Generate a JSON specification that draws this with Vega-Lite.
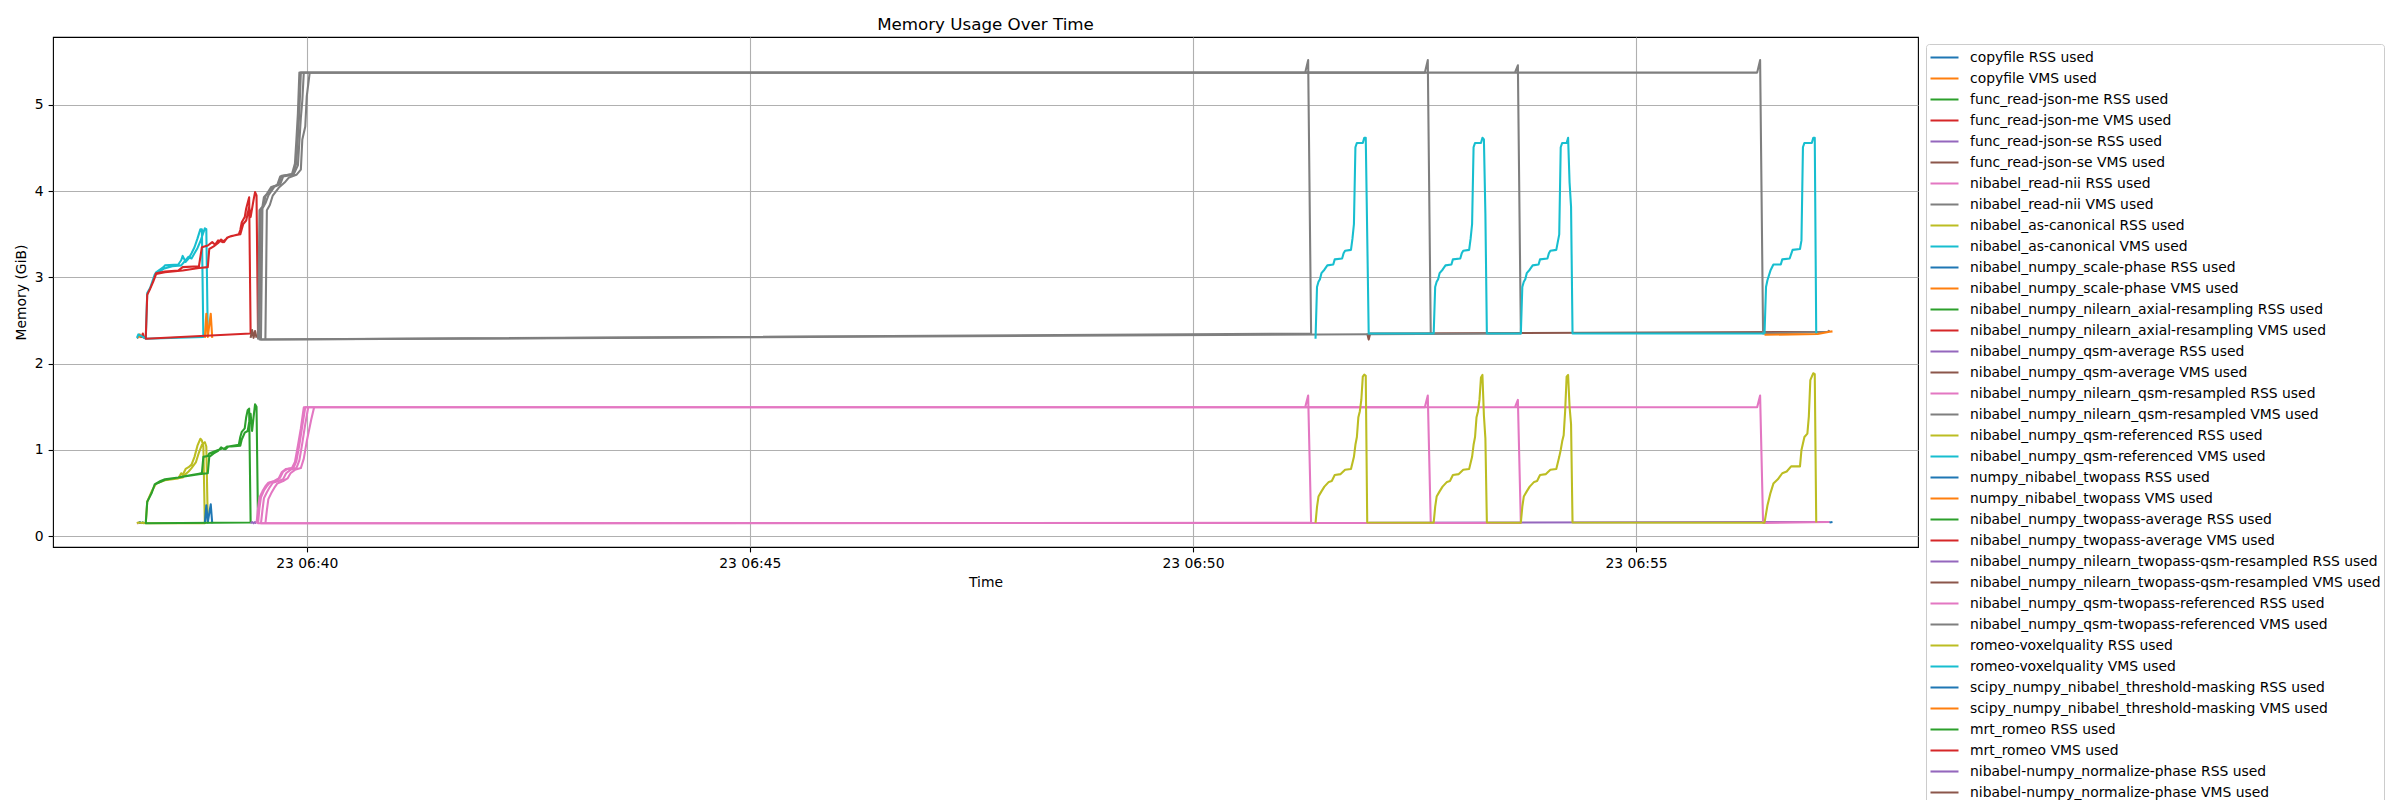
{
"$schema": "https://vega.github.io/schema/vega-lite/v6.json",
"width": 1865, "height": 510,
"autosize": {"type": "none"},
"padding": {"left": 53, "top": 37, "right": 482, "bottom": 253},
"background": "white",
"title": {"text": "Memory Usage Over Time", "font": "DejaVu Sans", "fontSize": 16.7, "fontWeight": "normal", "color": "black", "anchor": "middle", "frame": "group", "baseline": "alphabetic", "offset": 8, "dy": 18},
"config": {
  "view": {"stroke": "black", "strokeWidth": 1.1, "fill": "white"},
  "axis": {"domain": false, "grid": true, "gridColor": "#b0b0b0", "gridWidth": 1.1, "tickColor": "black", "tickSize": 4.9, "tickWidth": 1.1, "labelFont": "DejaVu Sans", "labelFontSize": 13.9, "labelColor": "black", "labelPadding": 4.9, "titleFont": "DejaVu Sans", "titleFontSize": 13.9, "titleFontWeight": "normal", "titleColor": "black"}
},
"data": {"values": [
{"s":"copyfile RSS used","t":"2024-05-23T06:38:06","v":0.15},
{"s":"copyfile RSS used","t":"2024-05-23T06:38:07","v":0.165},
{"s":"copyfile RSS used","t":"2024-05-23T06:38:08","v":0.15},
{"s":"copyfile VMS used","t":"2024-05-23T06:38:06","v":2.3},
{"s":"copyfile VMS used","t":"2024-05-23T06:38:07","v":2.34},
{"s":"copyfile VMS used","t":"2024-05-23T06:38:08","v":2.3},
{"s":"func_read-json-me RSS used","t":"2024-05-23T06:38:08","v":0.15},
{"s":"func_read-json-me RSS used","t":"2024-05-23T06:38:09","v":0.16},
{"s":"func_read-json-me RSS used","t":"2024-05-23T06:38:10","v":0.15},
{"s":"func_read-json-me VMS used","t":"2024-05-23T06:38:08","v":2.3},
{"s":"func_read-json-me VMS used","t":"2024-05-23T06:38:09","v":2.35},
{"s":"func_read-json-me VMS used","t":"2024-05-23T06:38:10","v":2.3},
{"s":"func_read-json-se RSS used","t":"2024-05-23T06:38:09","v":0.15},
{"s":"func_read-json-se RSS used","t":"2024-05-23T06:38:10","v":0.155},
{"s":"func_read-json-se VMS used","t":"2024-05-23T06:38:09","v":2.3},
{"s":"func_read-json-se VMS used","t":"2024-05-23T06:38:10","v":2.31},
{"s":"nibabel_read-nii RSS used","t":"2024-05-23T06:38:05","v":0.15},
{"s":"nibabel_read-nii RSS used","t":"2024-05-23T06:38:06","v":0.152},
{"s":"nibabel_read-nii VMS used","t":"2024-05-23T06:38:05","v":2.3},
{"s":"nibabel_read-nii VMS used","t":"2024-05-23T06:38:06","v":2.3},

{"s":"nibabel_as-canonical RSS used","t":"2024-05-23T06:38:05","v":0.15},
{"s":"nibabel_as-canonical RSS used","t":"2024-05-23T06:38:06","v":0.16},
{"s":"nibabel_as-canonical RSS used","t":"2024-05-23T06:38:11","v":0.15},
{"s":"nibabel_as-canonical RSS used","t":"2024-05-23T06:38:12","v":0.4},
{"s":"nibabel_as-canonical RSS used","t":"2024-05-23T06:38:15","v":0.52},
{"s":"nibabel_as-canonical RSS used","t":"2024-05-23T06:38:18","v":0.61},
{"s":"nibabel_as-canonical RSS used","t":"2024-05-23T06:38:24","v":0.65},
{"s":"nibabel_as-canonical RSS used","t":"2024-05-23T06:38:33","v":0.67},
{"s":"nibabel_as-canonical RSS used","t":"2024-05-23T06:38:35","v":0.73},
{"s":"nibabel_as-canonical RSS used","t":"2024-05-23T06:38:36","v":0.71},
{"s":"nibabel_as-canonical RSS used","t":"2024-05-23T06:38:38","v":0.78},
{"s":"nibabel_as-canonical RSS used","t":"2024-05-23T06:38:40","v":0.8},
{"s":"nibabel_as-canonical RSS used","t":"2024-05-23T06:38:42","v":0.83},
{"s":"nibabel_as-canonical RSS used","t":"2024-05-23T06:38:44","v":0.92},
{"s":"nibabel_as-canonical RSS used","t":"2024-05-23T06:38:46","v":1.05},
{"s":"nibabel_as-canonical RSS used","t":"2024-05-23T06:38:48","v":1.13},
{"s":"nibabel_as-canonical RSS used","t":"2024-05-23T06:38:49","v":1.11},
{"s":"nibabel_as-canonical RSS used","t":"2024-05-23T06:38:50","v":1.04},
{"s":"nibabel_as-canonical RSS used","t":"2024-05-23T06:38:51","v":0.15},
{"s":"nibabel_as-canonical RSS used","t":"2024-05-23T06:38:11","v":0.15},
{"s":"nibabel_as-canonical RSS used","t":"2024-05-23T06:38:12","v":0.4},
{"s":"nibabel_as-canonical RSS used","t":"2024-05-23T06:38:15","v":0.52},
{"s":"nibabel_as-canonical RSS used","t":"2024-05-23T06:38:18","v":0.61},
{"s":"nibabel_as-canonical RSS used","t":"2024-05-23T06:38:24","v":0.65},
{"s":"nibabel_as-canonical RSS used","t":"2024-05-23T06:38:36","v":0.68},
{"s":"nibabel_as-canonical RSS used","t":"2024-05-23T06:38:38","v":0.72},
{"s":"nibabel_as-canonical RSS used","t":"2024-05-23T06:38:40","v":0.75},
{"s":"nibabel_as-canonical RSS used","t":"2024-05-23T06:38:42","v":0.79},
{"s":"nibabel_as-canonical RSS used","t":"2024-05-23T06:38:45","v":0.86},
{"s":"nibabel_as-canonical RSS used","t":"2024-05-23T06:38:47","v":0.97},
{"s":"nibabel_as-canonical RSS used","t":"2024-05-23T06:38:49","v":1.06},
{"s":"nibabel_as-canonical RSS used","t":"2024-05-23T06:38:51","v":1.09},
{"s":"nibabel_as-canonical RSS used","t":"2024-05-23T06:38:52","v":1.04},
{"s":"nibabel_as-canonical RSS used","t":"2024-05-23T06:38:53","v":0.16},

{"s":"nibabel_as-canonical VMS used","t":"2024-05-23T06:38:05","v":2.3},
{"s":"nibabel_as-canonical VMS used","t":"2024-05-23T06:38:06","v":2.34},
{"s":"nibabel_as-canonical VMS used","t":"2024-05-23T06:38:11","v":2.29},
{"s":"nibabel_as-canonical VMS used","t":"2024-05-23T06:38:12","v":2.82},
{"s":"nibabel_as-canonical VMS used","t":"2024-05-23T06:38:14","v":2.88},
{"s":"nibabel_as-canonical VMS used","t":"2024-05-23T06:38:17","v":3.03},
{"s":"nibabel_as-canonical VMS used","t":"2024-05-23T06:38:18","v":3.06},
{"s":"nibabel_as-canonical VMS used","t":"2024-05-23T06:38:23","v":3.12},
{"s":"nibabel_as-canonical VMS used","t":"2024-05-23T06:38:24","v":3.14},
{"s":"nibabel_as-canonical VMS used","t":"2024-05-23T06:38:33","v":3.15},
{"s":"nibabel_as-canonical VMS used","t":"2024-05-23T06:38:35","v":3.2},
{"s":"nibabel_as-canonical VMS used","t":"2024-05-23T06:38:36","v":3.25},
{"s":"nibabel_as-canonical VMS used","t":"2024-05-23T06:38:38","v":3.18},
{"s":"nibabel_as-canonical VMS used","t":"2024-05-23T06:38:40","v":3.22},
{"s":"nibabel_as-canonical VMS used","t":"2024-05-23T06:38:42","v":3.28},
{"s":"nibabel_as-canonical VMS used","t":"2024-05-23T06:38:44","v":3.35},
{"s":"nibabel_as-canonical VMS used","t":"2024-05-23T06:38:46","v":3.45},
{"s":"nibabel_as-canonical VMS used","t":"2024-05-23T06:38:48","v":3.56},
{"s":"nibabel_as-canonical VMS used","t":"2024-05-23T06:38:49","v":3.56},
{"s":"nibabel_as-canonical VMS used","t":"2024-05-23T06:38:50","v":2.31},
{"s":"nibabel_as-canonical VMS used","t":"2024-05-23T06:38:11","v":2.29},
{"s":"nibabel_as-canonical VMS used","t":"2024-05-23T06:38:12","v":2.82},
{"s":"nibabel_as-canonical VMS used","t":"2024-05-23T06:38:14","v":2.88},
{"s":"nibabel_as-canonical VMS used","t":"2024-05-23T06:38:17","v":3.03},
{"s":"nibabel_as-canonical VMS used","t":"2024-05-23T06:38:23","v":3.1},
{"s":"nibabel_as-canonical VMS used","t":"2024-05-23T06:38:29","v":3.13},
{"s":"nibabel_as-canonical VMS used","t":"2024-05-23T06:38:35","v":3.14},
{"s":"nibabel_as-canonical VMS used","t":"2024-05-23T06:38:38","v":3.2},
{"s":"nibabel_as-canonical VMS used","t":"2024-05-23T06:38:40","v":3.24},
{"s":"nibabel_as-canonical VMS used","t":"2024-05-23T06:38:42","v":3.22},
{"s":"nibabel_as-canonical VMS used","t":"2024-05-23T06:38:44","v":3.28},
{"s":"nibabel_as-canonical VMS used","t":"2024-05-23T06:38:46","v":3.34},
{"s":"nibabel_as-canonical VMS used","t":"2024-05-23T06:38:48","v":3.42},
{"s":"nibabel_as-canonical VMS used","t":"2024-05-23T06:38:50","v":3.52},
{"s":"nibabel_as-canonical VMS used","t":"2024-05-23T06:38:51","v":3.57},
{"s":"nibabel_as-canonical VMS used","t":"2024-05-23T06:38:52","v":3.56},
{"s":"nibabel_as-canonical VMS used","t":"2024-05-23T06:38:53","v":2.32},

{"s":"nibabel_numpy_scale-phase RSS used","t":"2024-05-23T06:38:51","v":0.15},
{"s":"nibabel_numpy_scale-phase RSS used","t":"2024-05-23T06:38:52","v":0.36},
{"s":"nibabel_numpy_scale-phase RSS used","t":"2024-05-23T06:38:53","v":0.16},
{"s":"nibabel_numpy_scale-phase RSS used","t":"2024-05-23T06:38:55","v":0.37},
{"s":"nibabel_numpy_scale-phase RSS used","t":"2024-05-23T06:38:56","v":0.15},
{"s":"nibabel_numpy_scale-phase VMS used","t":"2024-05-23T06:38:51","v":2.3},
{"s":"nibabel_numpy_scale-phase VMS used","t":"2024-05-23T06:38:52","v":2.58},
{"s":"nibabel_numpy_scale-phase VMS used","t":"2024-05-23T06:38:53","v":2.31},
{"s":"nibabel_numpy_scale-phase VMS used","t":"2024-05-23T06:38:55","v":2.58},
{"s":"nibabel_numpy_scale-phase VMS used","t":"2024-05-23T06:38:56","v":2.3},

{"s":"nibabel_numpy_nilearn_axial-resampling RSS used","t":"2024-05-23T06:38:11","v":0.15},
{"s":"nibabel_numpy_nilearn_axial-resampling RSS used","t":"2024-05-23T06:38:12","v":0.4},
{"s":"nibabel_numpy_nilearn_axial-resampling RSS used","t":"2024-05-23T06:38:15","v":0.5},
{"s":"nibabel_numpy_nilearn_axial-resampling RSS used","t":"2024-05-23T06:38:17","v":0.6},
{"s":"nibabel_numpy_nilearn_axial-resampling RSS used","t":"2024-05-23T06:38:21","v":0.64},
{"s":"nibabel_numpy_nilearn_axial-resampling RSS used","t":"2024-05-23T06:38:24","v":0.66},
{"s":"nibabel_numpy_nilearn_axial-resampling RSS used","t":"2024-05-23T06:38:33","v":0.68},
{"s":"nibabel_numpy_nilearn_axial-resampling RSS used","t":"2024-05-23T06:38:42","v":0.71},
{"s":"nibabel_numpy_nilearn_axial-resampling RSS used","t":"2024-05-23T06:38:49","v":0.73},
{"s":"nibabel_numpy_nilearn_axial-resampling RSS used","t":"2024-05-23T06:38:50","v":0.92},
{"s":"nibabel_numpy_nilearn_axial-resampling RSS used","t":"2024-05-23T06:38:53","v":0.93},
{"s":"nibabel_numpy_nilearn_axial-resampling RSS used","t":"2024-05-23T06:38:54","v":0.96},
{"s":"nibabel_numpy_nilearn_axial-resampling RSS used","t":"2024-05-23T06:38:57","v":0.98},
{"s":"nibabel_numpy_nilearn_axial-resampling RSS used","t":"2024-05-23T06:39:00","v":1.0},
{"s":"nibabel_numpy_nilearn_axial-resampling RSS used","t":"2024-05-23T06:39:03","v":1.02},
{"s":"nibabel_numpy_nilearn_axial-resampling RSS used","t":"2024-05-23T06:39:05","v":1.01},
{"s":"nibabel_numpy_nilearn_axial-resampling RSS used","t":"2024-05-23T06:39:07","v":1.04},
{"s":"nibabel_numpy_nilearn_axial-resampling RSS used","t":"2024-05-23T06:39:14","v":1.06},
{"s":"nibabel_numpy_nilearn_axial-resampling RSS used","t":"2024-05-23T06:39:15","v":1.15},
{"s":"nibabel_numpy_nilearn_axial-resampling RSS used","t":"2024-05-23T06:39:16","v":1.21},
{"s":"nibabel_numpy_nilearn_axial-resampling RSS used","t":"2024-05-23T06:39:18","v":1.25},
{"s":"nibabel_numpy_nilearn_axial-resampling RSS used","t":"2024-05-23T06:39:19","v":1.38},
{"s":"nibabel_numpy_nilearn_axial-resampling RSS used","t":"2024-05-23T06:39:20","v":1.46},
{"s":"nibabel_numpy_nilearn_axial-resampling RSS used","t":"2024-05-23T06:39:21","v":1.48},
{"s":"nibabel_numpy_nilearn_axial-resampling RSS used","t":"2024-05-23T06:39:22","v":0.16},
{"s":"nibabel_numpy_nilearn_axial-resampling RSS used","t":"2024-05-23T06:38:11","v":0.15},
{"s":"nibabel_numpy_nilearn_axial-resampling RSS used","t":"2024-05-23T06:38:12","v":0.4},
{"s":"nibabel_numpy_nilearn_axial-resampling RSS used","t":"2024-05-23T06:38:15","v":0.5},
{"s":"nibabel_numpy_nilearn_axial-resampling RSS used","t":"2024-05-23T06:38:17","v":0.6},
{"s":"nibabel_numpy_nilearn_axial-resampling RSS used","t":"2024-05-23T06:38:24","v":0.655},
{"s":"nibabel_numpy_nilearn_axial-resampling RSS used","t":"2024-05-23T06:38:36","v":0.69},
{"s":"nibabel_numpy_nilearn_axial-resampling RSS used","t":"2024-05-23T06:38:47","v":0.72},
{"s":"nibabel_numpy_nilearn_axial-resampling RSS used","t":"2024-05-23T06:38:53","v":0.73},
{"s":"nibabel_numpy_nilearn_axial-resampling RSS used","t":"2024-05-23T06:38:54","v":0.92},
{"s":"nibabel_numpy_nilearn_axial-resampling RSS used","t":"2024-05-23T06:38:57","v":0.96},
{"s":"nibabel_numpy_nilearn_axial-resampling RSS used","t":"2024-05-23T06:39:00","v":0.99},
{"s":"nibabel_numpy_nilearn_axial-resampling RSS used","t":"2024-05-23T06:39:02","v":1.03},
{"s":"nibabel_numpy_nilearn_axial-resampling RSS used","t":"2024-05-23T06:39:04","v":1.01},
{"s":"nibabel_numpy_nilearn_axial-resampling RSS used","t":"2024-05-23T06:39:06","v":1.04},
{"s":"nibabel_numpy_nilearn_axial-resampling RSS used","t":"2024-05-23T06:39:09","v":1.04},
{"s":"nibabel_numpy_nilearn_axial-resampling RSS used","t":"2024-05-23T06:39:15","v":1.05},
{"s":"nibabel_numpy_nilearn_axial-resampling RSS used","t":"2024-05-23T06:39:16","v":1.12},
{"s":"nibabel_numpy_nilearn_axial-resampling RSS used","t":"2024-05-23T06:39:18","v":1.2},
{"s":"nibabel_numpy_nilearn_axial-resampling RSS used","t":"2024-05-23T06:39:20","v":1.22},
{"s":"nibabel_numpy_nilearn_axial-resampling RSS used","t":"2024-05-23T06:39:22","v":1.42},
{"s":"nibabel_numpy_nilearn_axial-resampling RSS used","t":"2024-05-23T06:39:23","v":1.22},
{"s":"nibabel_numpy_nilearn_axial-resampling RSS used","t":"2024-05-23T06:39:24","v":1.38},
{"s":"nibabel_numpy_nilearn_axial-resampling RSS used","t":"2024-05-23T06:39:25","v":1.53},
{"s":"nibabel_numpy_nilearn_axial-resampling RSS used","t":"2024-05-23T06:39:26","v":1.5},
{"s":"nibabel_numpy_nilearn_axial-resampling RSS used","t":"2024-05-23T06:39:27","v":0.16},

{"s":"nibabel_numpy_nilearn_axial-resampling VMS used","t":"2024-05-23T06:38:11","v":2.29},
{"s":"nibabel_numpy_nilearn_axial-resampling VMS used","t":"2024-05-23T06:38:12","v":2.8},
{"s":"nibabel_numpy_nilearn_axial-resampling VMS used","t":"2024-05-23T06:38:14","v":2.87},
{"s":"nibabel_numpy_nilearn_axial-resampling VMS used","t":"2024-05-23T06:38:16","v":2.95},
{"s":"nibabel_numpy_nilearn_axial-resampling VMS used","t":"2024-05-23T06:38:18","v":3.05},
{"s":"nibabel_numpy_nilearn_axial-resampling VMS used","t":"2024-05-23T06:38:24","v":3.07},
{"s":"nibabel_numpy_nilearn_axial-resampling VMS used","t":"2024-05-23T06:38:33","v":3.08},
{"s":"nibabel_numpy_nilearn_axial-resampling VMS used","t":"2024-05-23T06:38:36","v":3.12},
{"s":"nibabel_numpy_nilearn_axial-resampling VMS used","t":"2024-05-23T06:38:47","v":3.13},
{"s":"nibabel_numpy_nilearn_axial-resampling VMS used","t":"2024-05-23T06:38:49","v":3.35},
{"s":"nibabel_numpy_nilearn_axial-resampling VMS used","t":"2024-05-23T06:38:53","v":3.37},
{"s":"nibabel_numpy_nilearn_axial-resampling VMS used","t":"2024-05-23T06:38:56","v":3.41},
{"s":"nibabel_numpy_nilearn_axial-resampling VMS used","t":"2024-05-23T06:38:58","v":3.38},
{"s":"nibabel_numpy_nilearn_axial-resampling VMS used","t":"2024-05-23T06:39:00","v":3.43},
{"s":"nibabel_numpy_nilearn_axial-resampling VMS used","t":"2024-05-23T06:39:03","v":3.41},
{"s":"nibabel_numpy_nilearn_axial-resampling VMS used","t":"2024-05-23T06:39:07","v":3.47},
{"s":"nibabel_numpy_nilearn_axial-resampling VMS used","t":"2024-05-23T06:39:14","v":3.5},
{"s":"nibabel_numpy_nilearn_axial-resampling VMS used","t":"2024-05-23T06:39:15","v":3.55},
{"s":"nibabel_numpy_nilearn_axial-resampling VMS used","t":"2024-05-23T06:39:16","v":3.64},
{"s":"nibabel_numpy_nilearn_axial-resampling VMS used","t":"2024-05-23T06:39:18","v":3.7},
{"s":"nibabel_numpy_nilearn_axial-resampling VMS used","t":"2024-05-23T06:39:19","v":3.8},
{"s":"nibabel_numpy_nilearn_axial-resampling VMS used","t":"2024-05-23T06:39:21","v":3.93},
{"s":"nibabel_numpy_nilearn_axial-resampling VMS used","t":"2024-05-23T06:39:22","v":2.35},
{"s":"nibabel_numpy_nilearn_axial-resampling VMS used","t":"2024-05-23T06:38:11","v":2.29},
{"s":"nibabel_numpy_nilearn_axial-resampling VMS used","t":"2024-05-23T06:38:12","v":2.8},
{"s":"nibabel_numpy_nilearn_axial-resampling VMS used","t":"2024-05-23T06:38:14","v":2.87},
{"s":"nibabel_numpy_nilearn_axial-resampling VMS used","t":"2024-05-23T06:38:16","v":2.95},
{"s":"nibabel_numpy_nilearn_axial-resampling VMS used","t":"2024-05-23T06:38:18","v":3.04},
{"s":"nibabel_numpy_nilearn_axial-resampling VMS used","t":"2024-05-23T06:38:24","v":3.06},
{"s":"nibabel_numpy_nilearn_axial-resampling VMS used","t":"2024-05-23T06:38:36","v":3.08},
{"s":"nibabel_numpy_nilearn_axial-resampling VMS used","t":"2024-05-23T06:38:47","v":3.11},
{"s":"nibabel_numpy_nilearn_axial-resampling VMS used","t":"2024-05-23T06:38:53","v":3.12},
{"s":"nibabel_numpy_nilearn_axial-resampling VMS used","t":"2024-05-23T06:38:54","v":3.33},
{"s":"nibabel_numpy_nilearn_axial-resampling VMS used","t":"2024-05-23T06:38:57","v":3.36},
{"s":"nibabel_numpy_nilearn_axial-resampling VMS used","t":"2024-05-23T06:39:00","v":3.4},
{"s":"nibabel_numpy_nilearn_axial-resampling VMS used","t":"2024-05-23T06:39:02","v":3.44},
{"s":"nibabel_numpy_nilearn_axial-resampling VMS used","t":"2024-05-23T06:39:04","v":3.41},
{"s":"nibabel_numpy_nilearn_axial-resampling VMS used","t":"2024-05-23T06:39:06","v":3.46},
{"s":"nibabel_numpy_nilearn_axial-resampling VMS used","t":"2024-05-23T06:39:09","v":3.48},
{"s":"nibabel_numpy_nilearn_axial-resampling VMS used","t":"2024-05-23T06:39:15","v":3.5},
{"s":"nibabel_numpy_nilearn_axial-resampling VMS used","t":"2024-05-23T06:39:17","v":3.62},
{"s":"nibabel_numpy_nilearn_axial-resampling VMS used","t":"2024-05-23T06:39:19","v":3.66},
{"s":"nibabel_numpy_nilearn_axial-resampling VMS used","t":"2024-05-23T06:39:21","v":3.82},
{"s":"nibabel_numpy_nilearn_axial-resampling VMS used","t":"2024-05-23T06:39:22","v":3.7},
{"s":"nibabel_numpy_nilearn_axial-resampling VMS used","t":"2024-05-23T06:39:24","v":3.9},
{"s":"nibabel_numpy_nilearn_axial-resampling VMS used","t":"2024-05-23T06:39:25","v":3.99},
{"s":"nibabel_numpy_nilearn_axial-resampling VMS used","t":"2024-05-23T06:39:26","v":3.95},
{"s":"nibabel_numpy_nilearn_axial-resampling VMS used","t":"2024-05-23T06:39:27","v":2.35},

{"s":"nibabel_numpy_qsm-average RSS used","t":"2024-05-23T06:39:22","v":0.15},
{"s":"nibabel_numpy_qsm-average RSS used","t":"2024-05-23T06:39:23","v":0.165},
{"s":"nibabel_numpy_qsm-average RSS used","t":"2024-05-23T06:39:24","v":0.15},
{"s":"nibabel_numpy_qsm-average RSS used","t":"2024-05-23T06:39:25","v":0.165},
{"s":"nibabel_numpy_qsm-average RSS used","t":"2024-05-23T06:39:26","v":0.15},
{"s":"nibabel_numpy_qsm-average VMS used","t":"2024-05-23T06:39:22","v":2.3},
{"s":"nibabel_numpy_qsm-average VMS used","t":"2024-05-23T06:39:23","v":2.39},
{"s":"nibabel_numpy_qsm-average VMS used","t":"2024-05-23T06:39:24","v":2.3},
{"s":"nibabel_numpy_qsm-average VMS used","t":"2024-05-23T06:39:25","v":2.38},
{"s":"nibabel_numpy_qsm-average VMS used","t":"2024-05-23T06:39:26","v":2.3},

{"s":"nibabel_numpy_nilearn_qsm-resampled RSS used","t":"2024-05-23T06:39:26","v":0.15},
{"s":"nibabel_numpy_nilearn_qsm-resampled RSS used","t":"2024-05-23T06:39:27","v":0.32},
{"s":"nibabel_numpy_nilearn_qsm-resampled RSS used","t":"2024-05-23T06:39:28","v":0.45},
{"s":"nibabel_numpy_nilearn_qsm-resampled RSS used","t":"2024-05-23T06:39:30","v":0.52},
{"s":"nibabel_numpy_nilearn_qsm-resampled RSS used","t":"2024-05-23T06:39:32","v":0.58},
{"s":"nibabel_numpy_nilearn_qsm-resampled RSS used","t":"2024-05-23T06:39:34","v":0.62},
{"s":"nibabel_numpy_nilearn_qsm-resampled RSS used","t":"2024-05-23T06:39:38","v":0.64},
{"s":"nibabel_numpy_nilearn_qsm-resampled RSS used","t":"2024-05-23T06:39:41","v":0.67},
{"s":"nibabel_numpy_nilearn_qsm-resampled RSS used","t":"2024-05-23T06:39:43","v":0.74},
{"s":"nibabel_numpy_nilearn_qsm-resampled RSS used","t":"2024-05-23T06:39:46","v":0.78},
{"s":"nibabel_numpy_nilearn_qsm-resampled RSS used","t":"2024-05-23T06:39:50","v":0.79},
{"s":"nibabel_numpy_nilearn_qsm-resampled RSS used","t":"2024-05-23T06:39:52","v":0.86},
{"s":"nibabel_numpy_nilearn_qsm-resampled RSS used","t":"2024-05-23T06:39:54","v":1.05},
{"s":"nibabel_numpy_nilearn_qsm-resampled RSS used","t":"2024-05-23T06:39:56","v":1.25},
{"s":"nibabel_numpy_nilearn_qsm-resampled RSS used","t":"2024-05-23T06:39:58","v":1.495},
{"s":"nibabel_numpy_nilearn_qsm-resampled RSS used","t":"2024-05-23T06:51:16","v":1.495},
{"s":"nibabel_numpy_nilearn_qsm-resampled RSS used","t":"2024-05-23T06:51:18","v":1.63},
{"s":"nibabel_numpy_nilearn_qsm-resampled RSS used","t":"2024-05-23T06:51:20","v":0.155},
{"s":"nibabel_numpy_nilearn_qsm-resampled RSS used","t":"2024-05-23T06:39:29","v":0.15},
{"s":"nibabel_numpy_nilearn_qsm-resampled RSS used","t":"2024-05-23T06:39:30","v":0.3},
{"s":"nibabel_numpy_nilearn_qsm-resampled RSS used","t":"2024-05-23T06:39:31","v":0.44},
{"s":"nibabel_numpy_nilearn_qsm-resampled RSS used","t":"2024-05-23T06:39:33","v":0.51},
{"s":"nibabel_numpy_nilearn_qsm-resampled RSS used","t":"2024-05-23T06:39:35","v":0.57},
{"s":"nibabel_numpy_nilearn_qsm-resampled RSS used","t":"2024-05-23T06:39:37","v":0.62},
{"s":"nibabel_numpy_nilearn_qsm-resampled RSS used","t":"2024-05-23T06:39:41","v":0.64},
{"s":"nibabel_numpy_nilearn_qsm-resampled RSS used","t":"2024-05-23T06:39:44","v":0.66},
{"s":"nibabel_numpy_nilearn_qsm-resampled RSS used","t":"2024-05-23T06:39:46","v":0.73},
{"s":"nibabel_numpy_nilearn_qsm-resampled RSS used","t":"2024-05-23T06:39:49","v":0.77},
{"s":"nibabel_numpy_nilearn_qsm-resampled RSS used","t":"2024-05-23T06:39:53","v":0.79},
{"s":"nibabel_numpy_nilearn_qsm-resampled RSS used","t":"2024-05-23T06:39:55","v":0.88},
{"s":"nibabel_numpy_nilearn_qsm-resampled RSS used","t":"2024-05-23T06:39:57","v":1.08},
{"s":"nibabel_numpy_nilearn_qsm-resampled RSS used","t":"2024-05-23T06:39:59","v":1.3},
{"s":"nibabel_numpy_nilearn_qsm-resampled RSS used","t":"2024-05-23T06:40:01","v":1.495},
{"s":"nibabel_numpy_nilearn_qsm-resampled RSS used","t":"2024-05-23T06:52:37","v":1.495},
{"s":"nibabel_numpy_nilearn_qsm-resampled RSS used","t":"2024-05-23T06:52:39","v":1.63},
{"s":"nibabel_numpy_nilearn_qsm-resampled RSS used","t":"2024-05-23T06:52:41","v":0.155},

{"s":"nibabel_numpy_nilearn_qsm-resampled VMS used","t":"2024-05-23T06:39:27","v":2.28},
{"s":"nibabel_numpy_nilearn_qsm-resampled VMS used","t":"2024-05-23T06:39:28","v":3.78},
{"s":"nibabel_numpy_nilearn_qsm-resampled VMS used","t":"2024-05-23T06:39:30","v":3.82},
{"s":"nibabel_numpy_nilearn_qsm-resampled VMS used","t":"2024-05-23T06:39:31","v":3.93},
{"s":"nibabel_numpy_nilearn_qsm-resampled VMS used","t":"2024-05-23T06:39:33","v":3.97},
{"s":"nibabel_numpy_nilearn_qsm-resampled VMS used","t":"2024-05-23T06:39:36","v":4.05},
{"s":"nibabel_numpy_nilearn_qsm-resampled VMS used","t":"2024-05-23T06:39:40","v":4.07},
{"s":"nibabel_numpy_nilearn_qsm-resampled VMS used","t":"2024-05-23T06:39:42","v":4.17},
{"s":"nibabel_numpy_nilearn_qsm-resampled VMS used","t":"2024-05-23T06:39:50","v":4.2},
{"s":"nibabel_numpy_nilearn_qsm-resampled VMS used","t":"2024-05-23T06:39:52","v":4.32},
{"s":"nibabel_numpy_nilearn_qsm-resampled VMS used","t":"2024-05-23T06:39:53","v":4.6},
{"s":"nibabel_numpy_nilearn_qsm-resampled VMS used","t":"2024-05-23T06:39:54","v":4.9},
{"s":"nibabel_numpy_nilearn_qsm-resampled VMS used","t":"2024-05-23T06:39:55","v":5.375},
{"s":"nibabel_numpy_nilearn_qsm-resampled VMS used","t":"2024-05-23T06:51:16","v":5.375},
{"s":"nibabel_numpy_nilearn_qsm-resampled VMS used","t":"2024-05-23T06:51:18","v":5.52},
{"s":"nibabel_numpy_nilearn_qsm-resampled VMS used","t":"2024-05-23T06:51:20","v":2.35},
{"s":"nibabel_numpy_nilearn_qsm-resampled VMS used","t":"2024-05-23T06:39:29","v":2.28},
{"s":"nibabel_numpy_nilearn_qsm-resampled VMS used","t":"2024-05-23T06:39:30","v":3.8},
{"s":"nibabel_numpy_nilearn_qsm-resampled VMS used","t":"2024-05-23T06:39:32","v":3.86},
{"s":"nibabel_numpy_nilearn_qsm-resampled VMS used","t":"2024-05-23T06:39:34","v":3.95},
{"s":"nibabel_numpy_nilearn_qsm-resampled VMS used","t":"2024-05-23T06:39:38","v":4.05},
{"s":"nibabel_numpy_nilearn_qsm-resampled VMS used","t":"2024-05-23T06:39:42","v":4.08},
{"s":"nibabel_numpy_nilearn_qsm-resampled VMS used","t":"2024-05-23T06:39:44","v":4.17},
{"s":"nibabel_numpy_nilearn_qsm-resampled VMS used","t":"2024-05-23T06:39:51","v":4.19},
{"s":"nibabel_numpy_nilearn_qsm-resampled VMS used","t":"2024-05-23T06:39:54","v":4.3},
{"s":"nibabel_numpy_nilearn_qsm-resampled VMS used","t":"2024-05-23T06:39:56","v":4.85},
{"s":"nibabel_numpy_nilearn_qsm-resampled VMS used","t":"2024-05-23T06:39:57","v":5.05},
{"s":"nibabel_numpy_nilearn_qsm-resampled VMS used","t":"2024-05-23T06:39:58","v":5.375},
{"s":"nibabel_numpy_nilearn_qsm-resampled VMS used","t":"2024-05-23T06:52:37","v":5.375},
{"s":"nibabel_numpy_nilearn_qsm-resampled VMS used","t":"2024-05-23T06:52:39","v":5.52},
{"s":"nibabel_numpy_nilearn_qsm-resampled VMS used","t":"2024-05-23T06:52:41","v":2.35},

{"s":"nibabel_numpy_nilearn_twopass-qsm-resampled RSS used","t":"2024-05-23T06:51:59","v":0.155},
{"s":"nibabel_numpy_nilearn_twopass-qsm-resampled RSS used","t":"2024-05-23T06:57:11","v":0.165},
{"s":"nibabel_numpy_nilearn_twopass-qsm-resampled VMS used","t":"2024-05-23T06:51:58","v":2.35},
{"s":"nibabel_numpy_nilearn_twopass-qsm-resampled VMS used","t":"2024-05-23T06:51:59","v":2.28},
{"s":"nibabel_numpy_nilearn_twopass-qsm-resampled VMS used","t":"2024-05-23T06:52:00","v":2.35},
{"s":"nibabel_numpy_nilearn_twopass-qsm-resampled VMS used","t":"2024-05-23T06:57:10","v":2.37},
{"s":"nibabel_numpy_nilearn_twopass-qsm-resampled VMS used","t":"2024-05-23T06:57:11","v":2.385},

{"s":"nibabel_numpy_qsm-twopass-referenced RSS used","t":"2024-05-23T06:39:32","v":0.15},
{"s":"nibabel_numpy_qsm-twopass-referenced RSS used","t":"2024-05-23T06:39:33","v":0.3},
{"s":"nibabel_numpy_qsm-twopass-referenced RSS used","t":"2024-05-23T06:39:34","v":0.43},
{"s":"nibabel_numpy_qsm-twopass-referenced RSS used","t":"2024-05-23T06:39:36","v":0.5},
{"s":"nibabel_numpy_qsm-twopass-referenced RSS used","t":"2024-05-23T06:39:38","v":0.56},
{"s":"nibabel_numpy_qsm-twopass-referenced RSS used","t":"2024-05-23T06:39:40","v":0.61},
{"s":"nibabel_numpy_qsm-twopass-referenced RSS used","t":"2024-05-23T06:39:44","v":0.64},
{"s":"nibabel_numpy_qsm-twopass-referenced RSS used","t":"2024-05-23T06:39:47","v":0.67},
{"s":"nibabel_numpy_qsm-twopass-referenced RSS used","t":"2024-05-23T06:39:49","v":0.73},
{"s":"nibabel_numpy_qsm-twopass-referenced RSS used","t":"2024-05-23T06:39:52","v":0.77},
{"s":"nibabel_numpy_qsm-twopass-referenced RSS used","t":"2024-05-23T06:39:56","v":0.79},
{"s":"nibabel_numpy_qsm-twopass-referenced RSS used","t":"2024-05-23T06:39:58","v":0.9},
{"s":"nibabel_numpy_qsm-twopass-referenced RSS used","t":"2024-05-23T06:40:00","v":1.1},
{"s":"nibabel_numpy_qsm-twopass-referenced RSS used","t":"2024-05-23T06:40:03","v":1.35},
{"s":"nibabel_numpy_qsm-twopass-referenced RSS used","t":"2024-05-23T06:40:05","v":1.495},
{"s":"nibabel_numpy_qsm-twopass-referenced RSS used","t":"2024-05-23T06:53:38","v":1.495},
{"s":"nibabel_numpy_qsm-twopass-referenced RSS used","t":"2024-05-23T06:53:40","v":1.58},
{"s":"nibabel_numpy_qsm-twopass-referenced RSS used","t":"2024-05-23T06:53:42","v":0.155},
{"s":"nibabel_numpy_qsm-twopass-referenced RSS used","t":"2024-05-23T06:39:27","v":0.15},
{"s":"nibabel_numpy_qsm-twopass-referenced RSS used","t":"2024-05-23T06:39:28","v":0.33},
{"s":"nibabel_numpy_qsm-twopass-referenced RSS used","t":"2024-05-23T06:39:29","v":0.45},
{"s":"nibabel_numpy_qsm-twopass-referenced RSS used","t":"2024-05-23T06:39:31","v":0.53},
{"s":"nibabel_numpy_qsm-twopass-referenced RSS used","t":"2024-05-23T06:39:33","v":0.58},
{"s":"nibabel_numpy_qsm-twopass-referenced RSS used","t":"2024-05-23T06:39:35","v":0.62},
{"s":"nibabel_numpy_qsm-twopass-referenced RSS used","t":"2024-05-23T06:39:39","v":0.64},
{"s":"nibabel_numpy_qsm-twopass-referenced RSS used","t":"2024-05-23T06:39:42","v":0.68},
{"s":"nibabel_numpy_qsm-twopass-referenced RSS used","t":"2024-05-23T06:39:44","v":0.75},
{"s":"nibabel_numpy_qsm-twopass-referenced RSS used","t":"2024-05-23T06:39:47","v":0.78},
{"s":"nibabel_numpy_qsm-twopass-referenced RSS used","t":"2024-05-23T06:39:51","v":0.79},
{"s":"nibabel_numpy_qsm-twopass-referenced RSS used","t":"2024-05-23T06:39:53","v":0.87},
{"s":"nibabel_numpy_qsm-twopass-referenced RSS used","t":"2024-05-23T06:39:55","v":1.06},
{"s":"nibabel_numpy_qsm-twopass-referenced RSS used","t":"2024-05-23T06:39:57","v":1.28},
{"s":"nibabel_numpy_qsm-twopass-referenced RSS used","t":"2024-05-23T06:39:59","v":1.495},
{"s":"nibabel_numpy_qsm-twopass-referenced RSS used","t":"2024-05-23T06:56:22","v":1.495},
{"s":"nibabel_numpy_qsm-twopass-referenced RSS used","t":"2024-05-23T06:56:24","v":1.63},
{"s":"nibabel_numpy_qsm-twopass-referenced RSS used","t":"2024-05-23T06:56:26","v":0.155},
{"s":"nibabel_numpy_qsm-twopass-referenced RSS used","t":"2024-05-23T06:57:11","v":0.165},

{"s":"nibabel_numpy_qsm-twopass-referenced VMS used","t":"2024-05-23T06:39:32","v":2.28},
{"s":"nibabel_numpy_qsm-twopass-referenced VMS used","t":"2024-05-23T06:39:33","v":3.78},
{"s":"nibabel_numpy_qsm-twopass-referenced VMS used","t":"2024-05-23T06:39:35","v":3.84},
{"s":"nibabel_numpy_qsm-twopass-referenced VMS used","t":"2024-05-23T06:39:37","v":3.95},
{"s":"nibabel_numpy_qsm-twopass-referenced VMS used","t":"2024-05-23T06:39:41","v":4.04},
{"s":"nibabel_numpy_qsm-twopass-referenced VMS used","t":"2024-05-23T06:39:45","v":4.1},
{"s":"nibabel_numpy_qsm-twopass-referenced VMS used","t":"2024-05-23T06:39:48","v":4.16},
{"s":"nibabel_numpy_qsm-twopass-referenced VMS used","t":"2024-05-23T06:39:53","v":4.19},
{"s":"nibabel_numpy_qsm-twopass-referenced VMS used","t":"2024-05-23T06:39:56","v":4.25},
{"s":"nibabel_numpy_qsm-twopass-referenced VMS used","t":"2024-05-23T06:39:57","v":4.6},
{"s":"nibabel_numpy_qsm-twopass-referenced VMS used","t":"2024-05-23T06:39:59","v":4.75},
{"s":"nibabel_numpy_qsm-twopass-referenced VMS used","t":"2024-05-23T06:40:00","v":5.1},
{"s":"nibabel_numpy_qsm-twopass-referenced VMS used","t":"2024-05-23T06:40:02","v":5.375},
{"s":"nibabel_numpy_qsm-twopass-referenced VMS used","t":"2024-05-23T06:53:38","v":5.375},
{"s":"nibabel_numpy_qsm-twopass-referenced VMS used","t":"2024-05-23T06:53:40","v":5.46},
{"s":"nibabel_numpy_qsm-twopass-referenced VMS used","t":"2024-05-23T06:53:42","v":2.35},
{"s":"nibabel_numpy_qsm-twopass-referenced VMS used","t":"2024-05-23T06:39:28","v":2.28},
{"s":"nibabel_numpy_qsm-twopass-referenced VMS used","t":"2024-05-23T06:39:29","v":3.79},
{"s":"nibabel_numpy_qsm-twopass-referenced VMS used","t":"2024-05-23T06:39:31","v":3.84},
{"s":"nibabel_numpy_qsm-twopass-referenced VMS used","t":"2024-05-23T06:39:32","v":3.94},
{"s":"nibabel_numpy_qsm-twopass-referenced VMS used","t":"2024-05-23T06:39:34","v":3.98},
{"s":"nibabel_numpy_qsm-twopass-referenced VMS used","t":"2024-05-23T06:39:37","v":4.05},
{"s":"nibabel_numpy_qsm-twopass-referenced VMS used","t":"2024-05-23T06:39:41","v":4.08},
{"s":"nibabel_numpy_qsm-twopass-referenced VMS used","t":"2024-05-23T06:39:43","v":4.18},
{"s":"nibabel_numpy_qsm-twopass-referenced VMS used","t":"2024-05-23T06:39:51","v":4.2},
{"s":"nibabel_numpy_qsm-twopass-referenced VMS used","t":"2024-05-23T06:39:53","v":4.33},
{"s":"nibabel_numpy_qsm-twopass-referenced VMS used","t":"2024-05-23T06:39:54","v":4.62},
{"s":"nibabel_numpy_qsm-twopass-referenced VMS used","t":"2024-05-23T06:39:55","v":4.92},
{"s":"nibabel_numpy_qsm-twopass-referenced VMS used","t":"2024-05-23T06:39:56","v":5.375},
{"s":"nibabel_numpy_qsm-twopass-referenced VMS used","t":"2024-05-23T06:56:22","v":5.375},
{"s":"nibabel_numpy_qsm-twopass-referenced VMS used","t":"2024-05-23T06:56:24","v":5.52},
{"s":"nibabel_numpy_qsm-twopass-referenced VMS used","t":"2024-05-23T06:56:26","v":2.35},
{"s":"nibabel_numpy_qsm-twopass-referenced VMS used","t":"2024-05-23T06:57:10","v":2.37},
{"s":"nibabel_numpy_qsm-twopass-referenced VMS used","t":"2024-05-23T06:57:11","v":2.385},

{"s":"romeo-voxelquality RSS used","t":"2024-05-23T06:51:23","v":0.155},
{"s":"romeo-voxelquality RSS used","t":"2024-05-23T06:51:24","v":0.34},
{"s":"romeo-voxelquality RSS used","t":"2024-05-23T06:51:25","v":0.46},
{"s":"romeo-voxelquality RSS used","t":"2024-05-23T06:51:27","v":0.52},
{"s":"romeo-voxelquality RSS used","t":"2024-05-23T06:51:29","v":0.575},
{"s":"romeo-voxelquality RSS used","t":"2024-05-23T06:51:32","v":0.63},
{"s":"romeo-voxelquality RSS used","t":"2024-05-23T06:51:34","v":0.64},
{"s":"romeo-voxelquality RSS used","t":"2024-05-23T06:51:36","v":0.71},
{"s":"romeo-voxelquality RSS used","t":"2024-05-23T06:51:40","v":0.72},
{"s":"romeo-voxelquality RSS used","t":"2024-05-23T06:51:43","v":0.77},
{"s":"romeo-voxelquality RSS used","t":"2024-05-23T06:51:47","v":0.78},
{"s":"romeo-voxelquality RSS used","t":"2024-05-23T06:51:49","v":0.92},
{"s":"romeo-voxelquality RSS used","t":"2024-05-23T06:51:50","v":1.06},
{"s":"romeo-voxelquality RSS used","t":"2024-05-23T06:51:51","v":1.15},
{"s":"romeo-voxelquality RSS used","t":"2024-05-23T06:51:52","v":1.38},
{"s":"romeo-voxelquality RSS used","t":"2024-05-23T06:51:53","v":1.45},
{"s":"romeo-voxelquality RSS used","t":"2024-05-23T06:51:54","v":1.58},
{"s":"romeo-voxelquality RSS used","t":"2024-05-23T06:51:55","v":1.85},
{"s":"romeo-voxelquality RSS used","t":"2024-05-23T06:51:56","v":1.875},
{"s":"romeo-voxelquality RSS used","t":"2024-05-23T06:51:57","v":1.86},
{"s":"romeo-voxelquality RSS used","t":"2024-05-23T06:51:58","v":0.16},
{"s":"romeo-voxelquality RSS used","t":"2024-05-23T06:52:43","v":0.157},
{"s":"romeo-voxelquality RSS used","t":"2024-05-23T06:52:44","v":0.34},
{"s":"romeo-voxelquality RSS used","t":"2024-05-23T06:52:45","v":0.46},
{"s":"romeo-voxelquality RSS used","t":"2024-05-23T06:52:47","v":0.52},
{"s":"romeo-voxelquality RSS used","t":"2024-05-23T06:52:49","v":0.575},
{"s":"romeo-voxelquality RSS used","t":"2024-05-23T06:52:52","v":0.63},
{"s":"romeo-voxelquality RSS used","t":"2024-05-23T06:52:54","v":0.64},
{"s":"romeo-voxelquality RSS used","t":"2024-05-23T06:52:56","v":0.71},
{"s":"romeo-voxelquality RSS used","t":"2024-05-23T06:53:00","v":0.72},
{"s":"romeo-voxelquality RSS used","t":"2024-05-23T06:53:03","v":0.77},
{"s":"romeo-voxelquality RSS used","t":"2024-05-23T06:53:07","v":0.78},
{"s":"romeo-voxelquality RSS used","t":"2024-05-23T06:53:09","v":0.92},
{"s":"romeo-voxelquality RSS used","t":"2024-05-23T06:53:10","v":1.06},
{"s":"romeo-voxelquality RSS used","t":"2024-05-23T06:53:11","v":1.15},
{"s":"romeo-voxelquality RSS used","t":"2024-05-23T06:53:12","v":1.38},
{"s":"romeo-voxelquality RSS used","t":"2024-05-23T06:53:13","v":1.45},
{"s":"romeo-voxelquality RSS used","t":"2024-05-23T06:53:14","v":1.58},
{"s":"romeo-voxelquality RSS used","t":"2024-05-23T06:53:15","v":1.84},
{"s":"romeo-voxelquality RSS used","t":"2024-05-23T06:53:16","v":1.87},
{"s":"romeo-voxelquality RSS used","t":"2024-05-23T06:53:17","v":1.4},
{"s":"romeo-voxelquality RSS used","t":"2024-05-23T06:53:18","v":1.135},
{"s":"romeo-voxelquality RSS used","t":"2024-05-23T06:53:19","v":0.16},
{"s":"romeo-voxelquality RSS used","t":"2024-05-23T06:53:42","v":0.157},
{"s":"romeo-voxelquality RSS used","t":"2024-05-23T06:53:43","v":0.34},
{"s":"romeo-voxelquality RSS used","t":"2024-05-23T06:53:44","v":0.46},
{"s":"romeo-voxelquality RSS used","t":"2024-05-23T06:53:46","v":0.52},
{"s":"romeo-voxelquality RSS used","t":"2024-05-23T06:53:48","v":0.575},
{"s":"romeo-voxelquality RSS used","t":"2024-05-23T06:53:51","v":0.63},
{"s":"romeo-voxelquality RSS used","t":"2024-05-23T06:53:53","v":0.64},
{"s":"romeo-voxelquality RSS used","t":"2024-05-23T06:53:55","v":0.71},
{"s":"romeo-voxelquality RSS used","t":"2024-05-23T06:53:59","v":0.72},
{"s":"romeo-voxelquality RSS used","t":"2024-05-23T06:54:02","v":0.77},
{"s":"romeo-voxelquality RSS used","t":"2024-05-23T06:54:06","v":0.78},
{"s":"romeo-voxelquality RSS used","t":"2024-05-23T06:54:08","v":0.92},
{"s":"romeo-voxelquality RSS used","t":"2024-05-23T06:54:09","v":1.0},
{"s":"romeo-voxelquality RSS used","t":"2024-05-23T06:54:10","v":1.1},
{"s":"romeo-voxelquality RSS used","t":"2024-05-23T06:54:11","v":1.17},
{"s":"romeo-voxelquality RSS used","t":"2024-05-23T06:54:12","v":1.45},
{"s":"romeo-voxelquality RSS used","t":"2024-05-23T06:54:13","v":1.85},
{"s":"romeo-voxelquality RSS used","t":"2024-05-23T06:54:14","v":1.87},
{"s":"romeo-voxelquality RSS used","t":"2024-05-23T06:54:15","v":1.5},
{"s":"romeo-voxelquality RSS used","t":"2024-05-23T06:54:16","v":1.3},
{"s":"romeo-voxelquality RSS used","t":"2024-05-23T06:54:17","v":0.16},
{"s":"romeo-voxelquality RSS used","t":"2024-05-23T06:56:27","v":0.157},
{"s":"romeo-voxelquality RSS used","t":"2024-05-23T06:56:29","v":0.36},
{"s":"romeo-voxelquality RSS used","t":"2024-05-23T06:56:31","v":0.5},
{"s":"romeo-voxelquality RSS used","t":"2024-05-23T06:56:33","v":0.61},
{"s":"romeo-voxelquality RSS used","t":"2024-05-23T06:56:36","v":0.66},
{"s":"romeo-voxelquality RSS used","t":"2024-05-23T06:56:39","v":0.73},
{"s":"romeo-voxelquality RSS used","t":"2024-05-23T06:56:42","v":0.75},
{"s":"romeo-voxelquality RSS used","t":"2024-05-23T06:56:45","v":0.81},
{"s":"romeo-voxelquality RSS used","t":"2024-05-23T06:56:51","v":0.81},
{"s":"romeo-voxelquality RSS used","t":"2024-05-23T06:56:52","v":1.0},
{"s":"romeo-voxelquality RSS used","t":"2024-05-23T06:56:54","v":1.15},
{"s":"romeo-voxelquality RSS used","t":"2024-05-23T06:56:56","v":1.19},
{"s":"romeo-voxelquality RSS used","t":"2024-05-23T06:56:57","v":1.39},
{"s":"romeo-voxelquality RSS used","t":"2024-05-23T06:56:58","v":1.81},
{"s":"romeo-voxelquality RSS used","t":"2024-05-23T06:57:00","v":1.89},
{"s":"romeo-voxelquality RSS used","t":"2024-05-23T06:57:01","v":1.88},
{"s":"romeo-voxelquality RSS used","t":"2024-05-23T06:57:02","v":0.16},

{"s":"romeo-voxelquality VMS used","t":"2024-05-23T06:51:23","v":2.29},
{"s":"romeo-voxelquality VMS used","t":"2024-05-23T06:51:24","v":2.89},
{"s":"romeo-voxelquality VMS used","t":"2024-05-23T06:51:25","v":2.95},
{"s":"romeo-voxelquality VMS used","t":"2024-05-23T06:51:26","v":2.98},
{"s":"romeo-voxelquality VMS used","t":"2024-05-23T06:51:27","v":3.05},
{"s":"romeo-voxelquality VMS used","t":"2024-05-23T06:51:29","v":3.09},
{"s":"romeo-voxelquality VMS used","t":"2024-05-23T06:51:31","v":3.14},
{"s":"romeo-voxelquality VMS used","t":"2024-05-23T06:51:35","v":3.15},
{"s":"romeo-voxelquality VMS used","t":"2024-05-23T06:51:36","v":3.21},
{"s":"romeo-voxelquality VMS used","t":"2024-05-23T06:51:41","v":3.22},
{"s":"romeo-voxelquality VMS used","t":"2024-05-23T06:51:42","v":3.28},
{"s":"romeo-voxelquality VMS used","t":"2024-05-23T06:51:43","v":3.31},
{"s":"romeo-voxelquality VMS used","t":"2024-05-23T06:51:47","v":3.32},
{"s":"romeo-voxelquality VMS used","t":"2024-05-23T06:51:48","v":3.45},
{"s":"romeo-voxelquality VMS used","t":"2024-05-23T06:51:49","v":3.62},
{"s":"romeo-voxelquality VMS used","t":"2024-05-23T06:51:50","v":4.51},
{"s":"romeo-voxelquality VMS used","t":"2024-05-23T06:51:51","v":4.56},
{"s":"romeo-voxelquality VMS used","t":"2024-05-23T06:51:55","v":4.56},
{"s":"romeo-voxelquality VMS used","t":"2024-05-23T06:51:56","v":4.62},
{"s":"romeo-voxelquality VMS used","t":"2024-05-23T06:51:57","v":4.62},
{"s":"romeo-voxelquality VMS used","t":"2024-05-23T06:51:59","v":2.35},
{"s":"romeo-voxelquality VMS used","t":"2024-05-23T06:52:43","v":2.35},
{"s":"romeo-voxelquality VMS used","t":"2024-05-23T06:52:44","v":2.89},
{"s":"romeo-voxelquality VMS used","t":"2024-05-23T06:52:45","v":2.95},
{"s":"romeo-voxelquality VMS used","t":"2024-05-23T06:52:46","v":2.98},
{"s":"romeo-voxelquality VMS used","t":"2024-05-23T06:52:47","v":3.05},
{"s":"romeo-voxelquality VMS used","t":"2024-05-23T06:52:49","v":3.09},
{"s":"romeo-voxelquality VMS used","t":"2024-05-23T06:52:51","v":3.14},
{"s":"romeo-voxelquality VMS used","t":"2024-05-23T06:52:55","v":3.15},
{"s":"romeo-voxelquality VMS used","t":"2024-05-23T06:52:56","v":3.21},
{"s":"romeo-voxelquality VMS used","t":"2024-05-23T06:53:01","v":3.22},
{"s":"romeo-voxelquality VMS used","t":"2024-05-23T06:53:02","v":3.28},
{"s":"romeo-voxelquality VMS used","t":"2024-05-23T06:53:03","v":3.31},
{"s":"romeo-voxelquality VMS used","t":"2024-05-23T06:53:07","v":3.32},
{"s":"romeo-voxelquality VMS used","t":"2024-05-23T06:53:08","v":3.45},
{"s":"romeo-voxelquality VMS used","t":"2024-05-23T06:53:09","v":3.62},
{"s":"romeo-voxelquality VMS used","t":"2024-05-23T06:53:10","v":4.51},
{"s":"romeo-voxelquality VMS used","t":"2024-05-23T06:53:11","v":4.56},
{"s":"romeo-voxelquality VMS used","t":"2024-05-23T06:53:15","v":4.56},
{"s":"romeo-voxelquality VMS used","t":"2024-05-23T06:53:16","v":4.62},
{"s":"romeo-voxelquality VMS used","t":"2024-05-23T06:53:17","v":4.6},
{"s":"romeo-voxelquality VMS used","t":"2024-05-23T06:53:18","v":3.74},
{"s":"romeo-voxelquality VMS used","t":"2024-05-23T06:53:19","v":2.35},
{"s":"romeo-voxelquality VMS used","t":"2024-05-23T06:53:42","v":2.35},
{"s":"romeo-voxelquality VMS used","t":"2024-05-23T06:53:43","v":2.89},
{"s":"romeo-voxelquality VMS used","t":"2024-05-23T06:53:44","v":2.95},
{"s":"romeo-voxelquality VMS used","t":"2024-05-23T06:53:45","v":2.98},
{"s":"romeo-voxelquality VMS used","t":"2024-05-23T06:53:46","v":3.05},
{"s":"romeo-voxelquality VMS used","t":"2024-05-23T06:53:48","v":3.09},
{"s":"romeo-voxelquality VMS used","t":"2024-05-23T06:53:50","v":3.14},
{"s":"romeo-voxelquality VMS used","t":"2024-05-23T06:53:54","v":3.15},
{"s":"romeo-voxelquality VMS used","t":"2024-05-23T06:53:55","v":3.21},
{"s":"romeo-voxelquality VMS used","t":"2024-05-23T06:54:00","v":3.22},
{"s":"romeo-voxelquality VMS used","t":"2024-05-23T06:54:01","v":3.28},
{"s":"romeo-voxelquality VMS used","t":"2024-05-23T06:54:02","v":3.31},
{"s":"romeo-voxelquality VMS used","t":"2024-05-23T06:54:06","v":3.32},
{"s":"romeo-voxelquality VMS used","t":"2024-05-23T06:54:08","v":3.5},
{"s":"romeo-voxelquality VMS used","t":"2024-05-23T06:54:09","v":4.51},
{"s":"romeo-voxelquality VMS used","t":"2024-05-23T06:54:10","v":4.56},
{"s":"romeo-voxelquality VMS used","t":"2024-05-23T06:54:13","v":4.56},
{"s":"romeo-voxelquality VMS used","t":"2024-05-23T06:54:14","v":4.62},
{"s":"romeo-voxelquality VMS used","t":"2024-05-23T06:54:15","v":4.1},
{"s":"romeo-voxelquality VMS used","t":"2024-05-23T06:54:16","v":3.82},
{"s":"romeo-voxelquality VMS used","t":"2024-05-23T06:54:17","v":2.35},
{"s":"romeo-voxelquality VMS used","t":"2024-05-23T06:56:27","v":2.35},
{"s":"romeo-voxelquality VMS used","t":"2024-05-23T06:56:28","v":2.89},
{"s":"romeo-voxelquality VMS used","t":"2024-05-23T06:56:29","v":2.97},
{"s":"romeo-voxelquality VMS used","t":"2024-05-23T06:56:31","v":3.08},
{"s":"romeo-voxelquality VMS used","t":"2024-05-23T06:56:33","v":3.15},
{"s":"romeo-voxelquality VMS used","t":"2024-05-23T06:56:38","v":3.15},
{"s":"romeo-voxelquality VMS used","t":"2024-05-23T06:56:39","v":3.21},
{"s":"romeo-voxelquality VMS used","t":"2024-05-23T06:56:44","v":3.22},
{"s":"romeo-voxelquality VMS used","t":"2024-05-23T06:56:46","v":3.32},
{"s":"romeo-voxelquality VMS used","t":"2024-05-23T06:56:51","v":3.33},
{"s":"romeo-voxelquality VMS used","t":"2024-05-23T06:56:52","v":3.43},
{"s":"romeo-voxelquality VMS used","t":"2024-05-23T06:56:53","v":4.51},
{"s":"romeo-voxelquality VMS used","t":"2024-05-23T06:56:54","v":4.56},
{"s":"romeo-voxelquality VMS used","t":"2024-05-23T06:56:59","v":4.56},
{"s":"romeo-voxelquality VMS used","t":"2024-05-23T06:57:00","v":4.62},
{"s":"romeo-voxelquality VMS used","t":"2024-05-23T06:57:01","v":4.62},
{"s":"romeo-voxelquality VMS used","t":"2024-05-23T06:57:02","v":2.34},

{"s":"scipy_numpy_nibabel_threshold-masking RSS used","t":"2024-05-23T06:57:11","v":0.16},
{"s":"scipy_numpy_nibabel_threshold-masking RSS used","t":"2024-05-23T06:57:13","v":0.165},
{"s":"scipy_numpy_nibabel_threshold-masking VMS used","t":"2024-05-23T06:56:27","v":2.335},
{"s":"scipy_numpy_nibabel_threshold-masking VMS used","t":"2024-05-23T06:57:03","v":2.345},
{"s":"scipy_numpy_nibabel_threshold-masking VMS used","t":"2024-05-23T06:57:11","v":2.37},
{"s":"scipy_numpy_nibabel_threshold-masking VMS used","t":"2024-05-23T06:57:13","v":2.375}
]},
"mark": {"type": "line", "strokeWidth": 2.08, "strokeJoin": "round", "strokeCap": "butt", "clip": true},
"encoding": {
  "x": {"field": "t", "type": "temporal", "title": "Time",
    "scale": {"domain": [{"year": 2024, "month": 5, "date": 23, "hours": 6, "minutes": 37, "seconds": 8, "milliseconds": 200}, {"year": 2024, "month": 5, "date": 23, "hours": 6, "minutes": 58, "seconds": 10, "milliseconds": 900}]},
    "axis": {"values": [{"year": 2024, "month": 5, "date": 23, "hours": 6, "minutes": 40}, {"year": 2024, "month": 5, "date": 23, "hours": 6, "minutes": 45}, {"year": 2024, "month": 5, "date": 23, "hours": 6, "minutes": 50}, {"year": 2024, "month": 5, "date": 23, "hours": 6, "minutes": 55}], "format": "%d %H:%M", "labelFlush": false, "labelOverlap": false, "titlePadding": 5}},
  "y": {"field": "v", "type": "quantitative", "title": "Memory (GiB)",
    "scale": {"domain": [-0.125, 5.788], "nice": false, "zero": false},
    "axis": {"values": [0, 1, 2, 3, 4, 5], "titlePadding": 5.6}},
  "color": {"field": "s", "type": "nominal",
    "scale": {"domain": ["copyfile RSS used","copyfile VMS used","func_read-json-me RSS used","func_read-json-me VMS used","func_read-json-se RSS used","func_read-json-se VMS used","nibabel_read-nii RSS used","nibabel_read-nii VMS used","nibabel_as-canonical RSS used","nibabel_as-canonical VMS used","nibabel_numpy_scale-phase RSS used","nibabel_numpy_scale-phase VMS used","nibabel_numpy_nilearn_axial-resampling RSS used","nibabel_numpy_nilearn_axial-resampling VMS used","nibabel_numpy_qsm-average RSS used","nibabel_numpy_qsm-average VMS used","nibabel_numpy_nilearn_qsm-resampled RSS used","nibabel_numpy_nilearn_qsm-resampled VMS used","nibabel_numpy_qsm-referenced RSS used","nibabel_numpy_qsm-referenced VMS used","numpy_nibabel_twopass RSS used","numpy_nibabel_twopass VMS used","nibabel_numpy_twopass-average RSS used","nibabel_numpy_twopass-average VMS used","nibabel_numpy_nilearn_twopass-qsm-resampled RSS used","nibabel_numpy_nilearn_twopass-qsm-resampled VMS used","nibabel_numpy_qsm-twopass-referenced RSS used","nibabel_numpy_qsm-twopass-referenced VMS used","romeo-voxelquality RSS used","romeo-voxelquality VMS used","scipy_numpy_nibabel_threshold-masking RSS used","scipy_numpy_nibabel_threshold-masking VMS used","mrt_romeo RSS used","mrt_romeo VMS used","nibabel-numpy_normalize-phase RSS used","nibabel-numpy_normalize-phase VMS used"],
      "range": ["#1f77b4","#ff7f0e","#2ca02c","#d62728","#9467bd","#8c564b","#e377c2","#7f7f7f","#bcbd22","#17becf","#1f77b4","#ff7f0e","#2ca02c","#d62728","#9467bd","#8c564b","#e377c2","#7f7f7f","#bcbd22","#17becf","#1f77b4","#ff7f0e","#2ca02c","#d62728","#9467bd","#8c564b","#e377c2","#7f7f7f","#bcbd22","#17becf","#1f77b4","#ff7f0e","#2ca02c","#d62728","#9467bd","#8c564b"]},
    "legend": {"orient": "none", "legendX": 1873, "legendY": 7, "title": null, "direction": "vertical", "columns": 1,
      "symbolType": "stroke", "symbolSize": 784, "symbolStrokeWidth": 2.08, "symbolLimit": 100,
      "labelFont": "DejaVu Sans", "labelFontSize": 13.9, "labelColor": "black", "labelLimit": 1000, "labelOffset": 10,
      "clipHeight": 21, "rowPadding": 0, "padding": 3,
      "strokeColor": "#cccccc", "fillColor": "rgba(255,255,255,0.8)", "cornerRadius": 3}},
  "order": {"value": null}
}
}
